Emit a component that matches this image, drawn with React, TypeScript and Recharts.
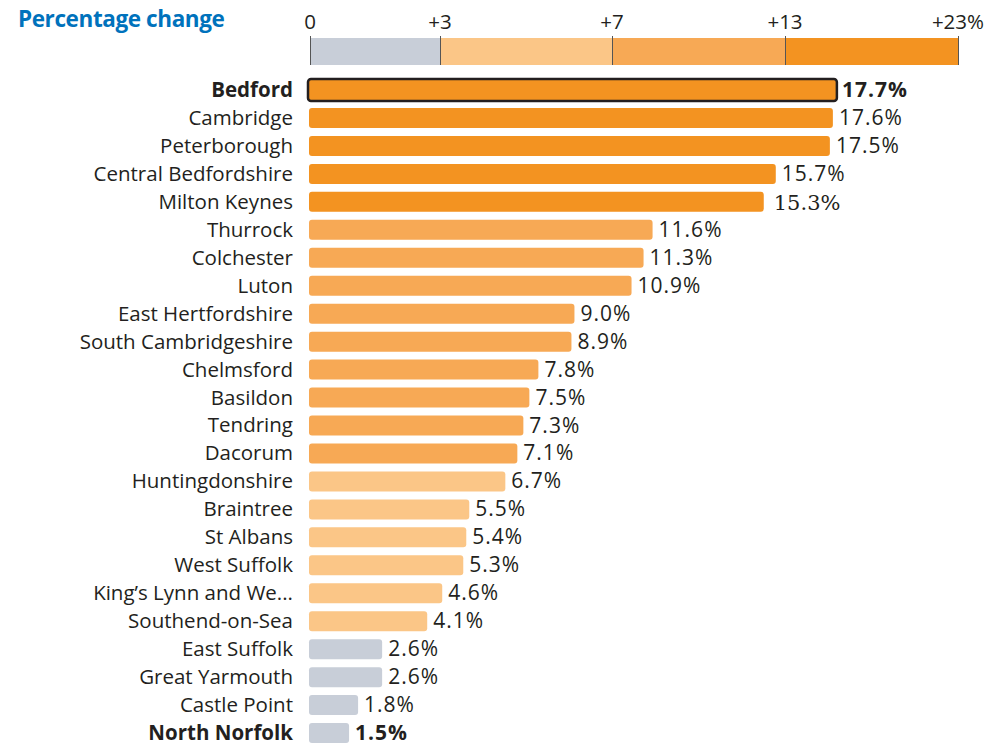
import { BarChart, Bar, XAxis, YAxis, LabelList } from "recharts";

const districts = [
  "Bedford",
  "Cambridge",
  "Peterborough",
  "Central Bedfordshire",
  "Milton Keynes",
  "Thurrock",
  "Colchester",
  "Luton",
  "East Hertfordshire",
  "South Cambridgeshire",
  "Chelmsford",
  "Basildon",
  "Tendring",
  "Dacorum",
  "Huntingdonshire",
  "Braintree",
  "St Albans",
  "West Suffolk",
  "King\u2019s Lynn and We...",
  "Southend-on-Sea",
  "East Suffolk",
  "Great Yarmouth",
  "Castle Point",
  "North Norfolk",
];

const changes = [
  17.7, 17.6, 17.5, 15.7, 15.3, 11.6, 11.3, 10.9, 9.0, 8.9, 7.8, 7.5, 7.3, 7.1,
  6.7, 5.5, 5.4, 5.3, 4.6, 4.1, 2.6, 2.6, 1.8, 1.5,
];

const highlighted = ["Bedford", "North Norfolk"];

const legendBreaks = [0, 3, 7, 13, 23];
const legendLabels = ["0", "+3", "+7", "+13", "+23%"];
const legendColors = ["#c8ced8", "#fbc687", "#f7a955", "#f39321"];

const FONT = "'Open Sans', 'Noto Sans', sans-serif";
const SERIF = "'DejaVu Serif', 'Liberation Serif', serif";
const TEXT = "#231f20";
const SIZE = 20.5;

const data = districts.map((name, i) => ({ name, value: changes[i] }));

function colorFor(v: number) {
  let c = legendColors[0];
  for (let i = 0; i < legendColors.length; i++) {
    if (v >= legendBreaks[i]) c = legendColors[i];
  }
  return c;
}

// legend bar is a quantile strip, not linear
const legendX = [310, 440, 612, 785, 958];

function Legend() {
  const last = legendLabels.length - 1;
  return (
    <svg
      width={985}
      height={76}
      style={{ position: "absolute", left: 0, top: 0 }}
    >
      <text
        x={18}
        y={27}
        fill="#0072bc"
        fontFamily={FONT}
        fontWeight={700}
        fontSize={22.5}
        letterSpacing={-0.4}
      >
        Percentage change
      </text>
      {legendColors.map((c, i) => (
        <rect
          key={c}
          x={legendX[i]}
          y={38}
          width={legendX[i + 1] - legendX[i]}
          height={27}
          fill={c}
        />
      ))}
      {legendLabels.map((l, i) => (
        <g key={l}>
          <line
            x1={legendX[i] + 0.5}
            x2={legendX[i] + 0.5}
            y1={36}
            y2={65}
            stroke="#555"
            strokeWidth={1}
          />
          <text
            x={i === last ? 984 : legendX[i]}
            y={29}
            textAnchor={i === last ? "end" : "middle"}
            fill={TEXT}
            fontFamily={FONT}
            fontSize={SIZE}
          >
            {l}
          </text>
        </g>
      ))}
    </svg>
  );
}

function NameTick(props: any) {
  const { x, y, payload } = props;
  const bold = highlighted.includes(payload.value);
  return (
    <text
      x={x}
      y={y}
      dy={7}
      textAnchor="end"
      fill={TEXT}
      fontFamily={FONT}
      fontSize={SIZE}
      fontWeight={bold ? 700 : 400}
    >
      {payload.value}
    </text>
  );
}

function BarShape(props: any) {
  const { x, y, width, height, payload } = props;
  const inset = 5;
  const isBedford = payload.name === "Bedford";
  const w = Math.max(0, width - inset);
  if (isBedford) {
    return (
      <rect
        x={x + inset - 1}
        y={y - 1}
        width={w + 2}
        height={height + 2}
        rx={3}
        fill={colorFor(payload.value)}
        stroke={TEXT}
        strokeWidth={2.5}
      />
    );
  }
  return (
    <rect
      x={x + inset}
      y={y}
      width={w}
      height={height}
      rx={3}
      fill={colorFor(payload.value)}
    />
  );
}

function ValueLabel(props: any) {
  const { x, y, width, height, index } = props;
  const name = districts[index];
  const bold = highlighted.includes(name);
  const serif = name === "Milton Keynes";
  return (
    <text
      x={x + width + (serif ? 10 : 6)}
      y={y + height / 2}
      dy={serif ? 8 : 7}
      fill={TEXT}
      fontFamily={serif ? SERIF : FONT}
      fontSize={serif ? 21 : 21}
      fontWeight={bold ? 700 : 400}
      letterSpacing={serif ? 0 : 1}
    >
      {changes[index].toFixed(1)}%
    </text>
  );
}

export default function App() {
  return (
    <div
      style={{
        position: "absolute",
        left: 0,
        top: 0,
        width: 985,
        height: 747,
        background: "#fff",
      }}
    >
      <Legend />
      <div style={{ position: "absolute", left: 0, top: 76 }}>
        <BarChart
          width={985}
          height={671}
          data={data}
          layout="vertical"
          margin={{ top: 0, right: 80, bottom: 0, left: 0 }}
          barCategoryGap={4}
        >
          <XAxis type="number" domain={[0, 20]} hide />
          <YAxis
            type="category"
            dataKey="name"
            width={304}
            axisLine={false}
            tickLine={false}
            tickSize={0}
            tickMargin={11}
            interval={0}
            tick={<NameTick />}
          />
          <Bar
            dataKey="value"
            isAnimationActive={false}
            shape={<BarShape />}
          >
            <LabelList dataKey="value" content={<ValueLabel />} />
          </Bar>
        </BarChart>
      </div>
    </div>
  );
}
